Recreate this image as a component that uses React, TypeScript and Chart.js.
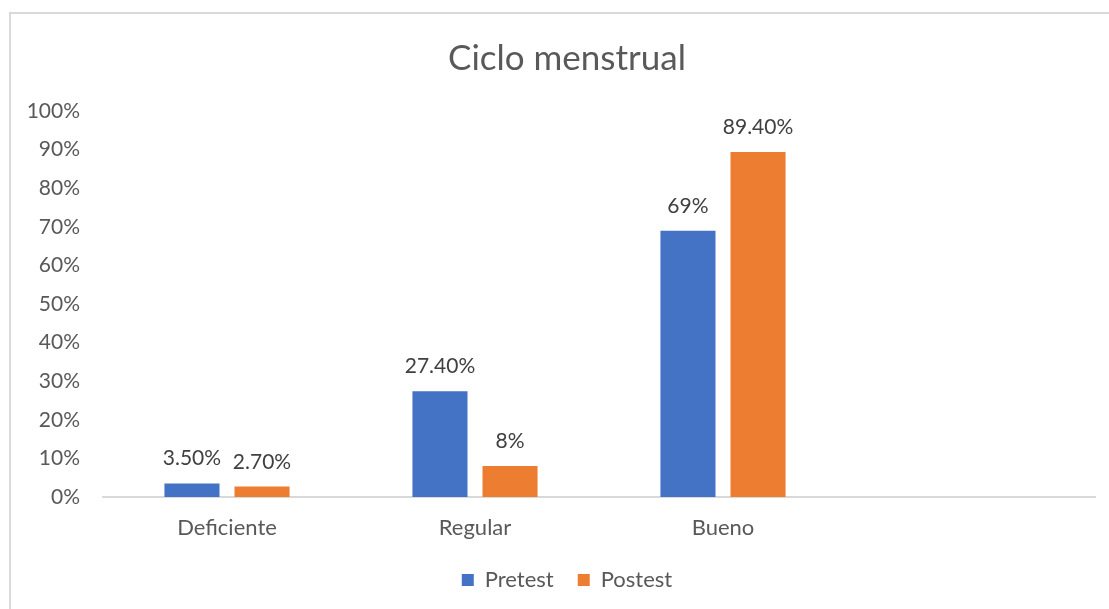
import React, { useEffect, useRef } from "react";
import { Chart, registerables } from "chart.js";

Chart.register(...registerables);

const categories = ["Deficiente", "Regular", "Bueno", ""];
const pretestValues = [3.5, 27.4, 69, null];
const postestValues = [2.7, 8, 89.4, null];
const pretestLabels = ["3.50%", "27.40%", "69%", ""];
const postestLabels = ["2.70%", "8%", "89.40%", ""];
const yTicks = [0, 10, 20, 30, 40, 50, 60, 70, 80, 90, 100];

const FONT = "Lato, 'Open Sans', sans-serif";

const dataLabelPlugin = {
  id: "dataLabels",
  afterDatasetsDraw(chart: any) {
    const ctx = chart.ctx;
    const labelSets = [pretestLabels, postestLabels];
    ctx.save();
    ctx.font = `21px ${FONT}`;
    ctx.fillStyle = "#404040";
    ctx.textAlign = "center";
    ctx.textBaseline = "alphabetic";
    chart.data.datasets.forEach((ds: any, di: number) => {
      const meta = chart.getDatasetMeta(di);
      meta.data.forEach((el: any, i: number) => {
        const txt = labelSets[di][i];
        if (!txt || ds.data[i] == null) return;
        ctx.fillText(txt, el.x, el.y - 18);
      });
    });
    ctx.restore();
  },
};

// Y tick labels drawn from the library's y scale (avoids clipping to the narrow scale box)
const yLabelPlugin = {
  id: "yLabels",
  afterDraw(chart: any) {
    const ctx = chart.ctx;
    const y = chart.scales.y;
    ctx.save();
    ctx.font = `21px ${FONT}`;
    ctx.fillStyle = "#595959";
    ctx.textAlign = "right";
    ctx.textBaseline = "middle";
    yTicks.forEach((v) => {
      ctx.fillText(`${v}%`, chart.chartArea.left - 23, y.getPixelForValue(v));
    });
    ctx.restore();
  },
};

export default function App() {
  const canvasRef = useRef<HTMLCanvasElement | null>(null);

  useEffect(() => {
    if (!canvasRef.current) return;
    const chart = new Chart(canvasRef.current, {
      type: "bar",
      data: {
        labels: categories,
        datasets: [
          {
            label: "Pretest",
            data: pretestValues,
            backgroundColor: "#4472C4",
            categoryPercentage: 0.565,
            barPercentage: 0.786,
          },
          {
            label: "Postest",
            data: postestValues,
            backgroundColor: "#ED7D31",
            categoryPercentage: 0.565,
            barPercentage: 0.786,
          },
        ],
      },
      options: {
        animation: false,
        responsive: false,
        maintainAspectRatio: false,
        layout: { padding: { left: 39, right: 14, top: 0, bottom: 8 } },
        plugins: {
          title: {
            display: true,
            text: "Ciclo menstrual",
            color: "#595959",
            font: { family: FONT, size: 35, weight: "normal" },
            padding: { top: 38, bottom: 31 },
          },
          legend: {
            display: true,
            position: "bottom",
            labels: {
              color: "#595959",
              font: { family: FONT, size: 22 },
              boxWidth: 12,
              boxHeight: 12,
              padding: 24,
            },
          },
          tooltip: { enabled: false },
        },
        scales: {
          x: {
            afterFit(scale: any) {
              scale.height = 48;
            },
            grid: { display: false, drawTicks: false },
            border: { display: true, color: "#d9d9d9", width: 2 },
            ticks: {
              color: "#595959",
              font: { family: FONT, size: 22 },
              padding: 18,
            },
          },
          y: {
            min: 0,
            max: 100,
            afterFit(scale: any) {
              scale.width = 64;
            },
            grid: { display: false, drawTicks: false },
            border: { display: false },
            ticks: { display: false },
          },
        },
      },
      plugins: [dataLabelPlugin, yLabelPlugin],
    });
    return () => chart.destroy();
  }, []);

  return (
    <div
      style={{
        position: "fixed",
        left: 0,
        top: 0,
        width: 1109,
        height: 609,
        overflow: "hidden",
        background: "#ffffff",
      }}
    >
      <div
        style={{
          position: "absolute",
          left: 9,
          top: 12,
          width: 1300,
          height: 800,
          border: "2px solid #d9d9d9",
        }}
      />
      <canvas
        ref={canvasRef}
        width={1109}
        height={609}
        style={{ position: "absolute", left: 0, top: 0, width: 1109, height: 609 }}
      />
    </div>
  );
}
